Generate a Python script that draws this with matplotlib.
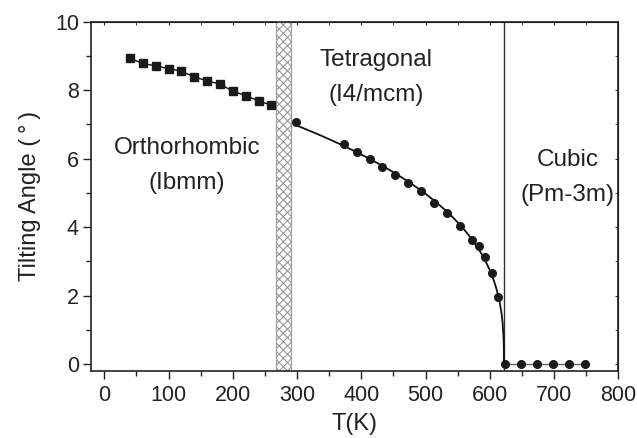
import numpy as np
import matplotlib
matplotlib.use("Agg")
import matplotlib.pyplot as plt
from matplotlib.ticker import MultipleLocator

plt.rcParams['font.family'] = ['Liberation Sans', 'DejaVu Sans']
plt.rcParams['hatch.color'] = '#999999'
plt.rcParams['hatch.linewidth'] = 0.8

# Orthorhombic (Ibmm) data
T_ortho = [40, 60, 80, 100, 120, 140, 160, 180, 200, 220, 240, 260]
ang_ortho = [8.93, 8.78, 8.71, 8.63, 8.55, 8.39, 8.27, 8.18, 7.97, 7.84, 7.69, 7.56]

# Tetragonal (I4/mcm) data
T_tet = [298, 373, 393, 413, 433, 453, 473, 493, 513, 533, 553, 573, 583, 593, 603, 613]
ang_tet = [7.08, 6.43, 6.20, 5.98, 5.76, 5.51, 5.29, 5.05, 4.71, 4.40, 4.03, 3.62,
           3.44, 3.12, 2.65, 1.95]

# Cubic (Pm-3m) data
T_cub = [623, 648, 673, 698, 723, 748]
ang_cub = [0, 0, 0, 0, 0, 0]

# Transition temperature and coexistence band
Tc = 622
band = (268, 290)

fig = plt.figure(figsize=(6.37, 4.38), dpi=100)
ax = fig.add_axes([0.1436, 0.153, 0.8270, 0.7975])

# hatched coexistence band
ax.axvspan(band[0], band[1], facecolor='white', edgecolor='#999999',
           hatch='xxxx', linewidth=0.8, zorder=1)

# power-law fit of tetragonal data: ang = A (Tc - T)^beta
Tt = np.array(T_tet, float)
yt = np.array(ang_tet, float)
beta, lnA = np.polyfit(np.log(Tc - Tt), np.log(yt), 1)
Tfit = np.concatenate([np.linspace(Tt[0], Tc - 1, 300), np.linspace(Tc - 1, Tc, 200)])
yfit = np.exp(lnA) * np.clip(Tc - Tfit, 0, None) ** beta
ax.plot(Tfit, yfit, color='#111111', lw=1.3, zorder=3)

ax.plot(T_ortho, ang_ortho, color='#111111', lw=1.0, marker='s', ms=5.5,
        mfc='#1a1a1a', mec='#1a1a1a', zorder=4)
ax.plot(T_tet, ang_tet, ls='none', marker='o', ms=5.5,
        mfc='#1a1a1a', mec='#1a1a1a', zorder=4)
ax.plot(T_cub, ang_cub, color='#666666', lw=1.0, marker='o', ms=5.5,
        mfc='#1a1a1a', mec='#1a1a1a', zorder=4)

ax.axvline(Tc, color='#333333', lw=1.0, zorder=2)

ax.set_xlim(-20, 800)
ax.set_ylim(-0.2, 10)
ax.xaxis.set_major_locator(MultipleLocator(100))
ax.xaxis.set_minor_locator(MultipleLocator(50))
ax.yaxis.set_major_locator(MultipleLocator(2))
ax.yaxis.set_minor_locator(MultipleLocator(1))

ax.tick_params(which='both', direction='out', top=False, right=False,
               colors='#222222', labelsize=15.5)
ax.tick_params(which='major', length=6, width=1)
ax.tick_params(which='minor', length=3.5, width=1)
ax.tick_params(axis='x', pad=4)
ax.tick_params(axis='y', pad=3)
# mirrored inward ticks on top/right
axt = ax.secondary_xaxis('top')
axt.xaxis.set_major_locator(MultipleLocator(100))
axt.xaxis.set_minor_locator(MultipleLocator(50))
axt.tick_params(which='both', direction='in', length=2.5, labeltop=False, colors='#222222')
axr = ax.secondary_yaxis('right')
axr.yaxis.set_major_locator(MultipleLocator(2))
axr.yaxis.set_minor_locator(MultipleLocator(1))
axr.tick_params(which='both', direction='in', length=2.5, labelright=False, colors='#222222')

for s in ax.spines.values():
    s.set_color('#222222')
    s.set_linewidth(1.2)

ax.set_xlabel('T(K)', fontsize=17, color='#222222', labelpad=5)
ax.set_ylabel('Tilting Angle (\u2009°\u2009)', fontsize=17, color='#222222', labelpad=10)

tk = dict(fontsize=17.5, color='#222222', ha='center', va='center')
ax.text(129, 6.31, 'Orthorhombic', **tk)
ax.text(129, 5.29, '(Ibmm)', **tk)
ax.text(423, 8.88, 'Tetragonal', **tk)
ax.text(423, 7.86, '(I4/mcm)', **tk)
ax.text(721, 5.96, 'Cubic', **tk)
ax.text(721, 4.94, '(Pm-3m)', **tk)

fig.savefig('out.png', dpi=100)
